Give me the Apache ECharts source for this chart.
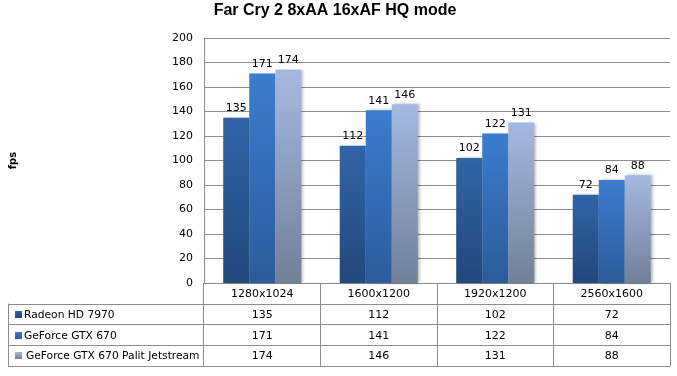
<!DOCTYPE html>
<html>
<head>
<meta charset="utf-8">
<script src="https://cdn.jsdelivr.net/npm/echarts@6/dist/echarts.min.js"></script>
<style>
  html, body { margin: 0; padding: 0; background: #fff; }
  #chart { width: 677px; height: 376px; }
</style>
</head>
<body>
<div id="chart"></div>
<script>
const categories = ['1280x1024', '1600x1200', '1920x1200', '2560x1600']
const seriesNames = ['Radeon HD 7970', 'GeForce GTX 670', 'GeForce GTX 670 Palit Jetstream']
const radeon7970 = [135, 112, 102, 72]
const gtx670 = [171, 141, 122, 84]
const gtx670Palit = [174, 146, 131, 88]
const yTicks = [0, 20, 40, 60, 80, 100, 120, 140, 160, 180, 200]

const seriesValues = [radeon7970, gtx670, gtx670Palit]
// top / bottom of the vertical gradient per series
const palette = [
  ['#3064a8', '#22487c'],
  ['#3c7dcf', '#2b5b9a'],
  ['#a5b9e0', '#717f98'],
]
const font = 'DejaVu Sans'
const lineColor = '#8c8c8c'

const grid = { left: 203, right: 7, top: 38, bottom: 93 }
const W = 677
const H = 376
const rowH = 20.7
const tableLeft = 8

const chart = echarts.init(document.getElementById('chart'), null, { renderer: 'canvas' })

function gradient(c) {
  return new echarts.graphic.LinearGradient(0, 0, 0, 1, [
    { offset: 0, color: c[0] },
    { offset: 1, color: c[1] },
  ])
}

chart.setOption({
  animation: false,
  title: {
    text: 'Far Cry 2 8xAA 16xAF HQ mode',
    left: 335,
    top: 3,
    padding: 0,
    textAlign: 'center',
    textStyle: { fontFamily: 'Liberation Sans', fontSize: 16, fontWeight: 'bold', color: '#000' },
  },
  grid: { ...grid, containLabel: false },
  xAxis: {
    type: 'category',
    data: categories,
    axisLine: { lineStyle: { color: lineColor } },
    axisTick: { show: false },
    axisLabel: { show: false },
    splitLine: { show: false },
  },
  yAxis: {
    type: 'value',
    min: yTicks[0],
    max: yTicks[yTicks.length - 1],
    interval: yTicks[1] - yTicks[0],
    name: 'fps',
    nameLocation: 'middle',
    nameRotate: 90,
    nameGap: 186,
    nameTextStyle: { fontFamily: font, fontSize: 10, fontWeight: 'bold', color: '#000' },
    axisLine: { show: true, lineStyle: { color: lineColor } },
    axisTick: { show: false },
    axisLabel: { margin: 11, fontFamily: font, fontSize: 11, color: '#000' },
    splitLine: { lineStyle: { color: lineColor } },
  },
  series: seriesValues.map((vals, i) => ({
    name: seriesNames[i],
    type: 'bar',
    data: vals,
    barGap: '0%',
    barCategoryGap: '33%',
    itemStyle: {
      color: gradient(palette[i]),
      shadowColor: 'rgba(0,0,0,0.3)',
      shadowBlur: 3,
      shadowOffsetX: 2,
      shadowOffsetY: 0,
    },
    label: {
      show: true,
      position: 'top',
      distance: 4,
      fontFamily: font,
      fontSize: 11,
      color: '#000',
    },
  })),
})

// data table under the plot, laid out on the x axis of the chart
function buildTable() {
  const gridRight = W - grid.right
  const top = H - grid.bottom
  const bottom = top + rowH * (seriesNames.length + 1)
  const colW = (gridRight - grid.left) / categories.length
  const els = []
  const line = (x1, y1, x2, y2) =>
    els.push({ type: 'line', shape: { x1, y1, x2, y2 }, style: { stroke: lineColor, lineWidth: 1 }, silent: true })

  // verticals
  line(tableLeft + 0.5, top + rowH, tableLeft + 0.5, bottom)
  for (let i = 0; i <= categories.length; i++) {
    const x = Math.round(grid.left + i * colW) + 0.5
    line(x, top, x, bottom)
  }
  // horizontals
  for (let r = 1; r <= seriesNames.length + 1; r++) {
    const y = Math.round(top + r * rowH) + 0.5
    line(tableLeft, y, gridRight, y)
  }

  categories.forEach((c, i) => {
    const x = chart.convertToPixel({ xAxisIndex: 0 }, c)
    els.push({
      type: 'text',
      x, y: top + rowH / 2 + 1,
      style: { text: c, font: `11px "${font}"`, fill: '#000', align: 'center', verticalAlign: 'middle' },
    })
    seriesValues.forEach((vals, s) => {
      els.push({
        type: 'text',
        x, y: top + rowH * (s + 1.5) + 1,
        style: { text: String(vals[i]), font: `11px "${font}"`, fill: '#000', align: 'center', verticalAlign: 'middle' },
      })
    })
  })

  seriesNames.forEach((name, s) => {
    const cy = top + rowH * (s + 1.5)
    els.push({
      type: 'rect',
      shape: { x: 15, y: Math.round(cy) - 3, width: 7, height: 7 },
      style: { fill: gradient(palette[s]) },
    })
    els.push({
      type: 'text',
      x: s === 2 ? 26 : 24, y: cy + 1,
      style: { text: name, font: `10.7px "${font}"`, fill: '#000', align: 'left', verticalAlign: 'middle' },
    })
  })
  chart.setOption({ graphic: { elements: els } })
}

buildTable()
</script>
</body>
</html>
